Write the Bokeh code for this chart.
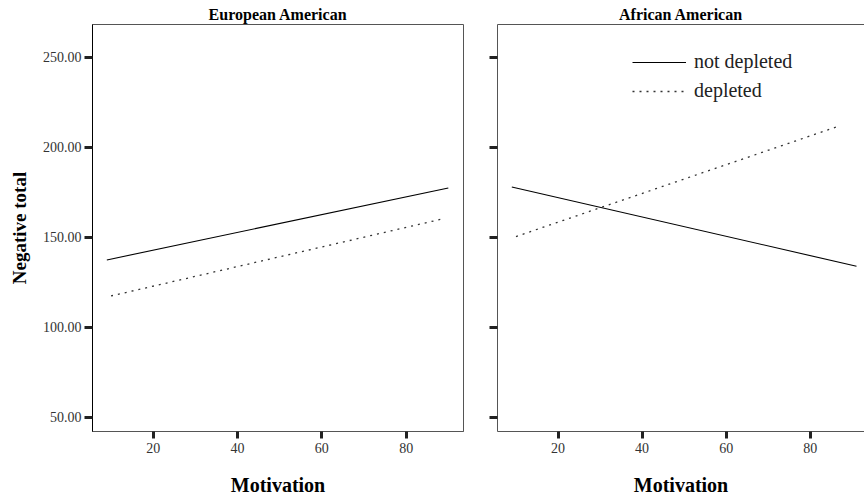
from bokeh.plotting import figure
from bokeh.layouts import row
from bokeh.models import (Range1d, FixedTicker, NumeralTickFormatter, CustomJSTickFormatter,
                          LinearAxis, Legend, LegendItem)
from bokeh.embed import file_html
from bokeh.resources import INLINE

# ---- data ----
panel_titles = ["European American", "African American"]
y_ticks = [50, 100, 150, 200, 250]
x_ticks = [20, 40, 60, 80]
series_labels = ["not depleted", "depleted"]

ea_not_depleted_x = [9, 90]
ea_not_depleted_y = [137.5, 177.5]
ea_depleted_x = [10, 89]
ea_depleted_y = [117.5, 160.5]

aa_not_depleted_x = [9, 91]
aa_not_depleted_y = [178.0, 134.0]
aa_depleted_x = [10, 87]
aa_depleted_y = [150.5, 212.0]

FONT = "Liberation Serif"
H = 499
Y_RANGE = (42.2, 268.3)
AXIS_GRAY = "#555555"


def make_panel(title, width, x_range, border_left, border_right, first):
    p = figure(width=width, height=H,
               x_range=Range1d(*x_range), y_range=Range1d(*Y_RANGE),
               output_backend="svg", toolbar_location=None,
               min_border_left=border_left, min_border_right=border_right,
               min_border_top=24, min_border_bottom=68)
    p.title.text = title
    p.title.align = "center"
    p.title.text_font = FONT
    p.title.text_font_style = "bold"
    p.title.text_font_size = "16px"
    p.title.text_color = "black"
    p.title.standoff = 4
    p.xgrid.visible = False
    p.ygrid.visible = False
    p.background_fill_color = "white"
    p.border_fill_color = "white"

    # x axis
    xa = p.xaxis[0]
    xa.ticker = FixedTicker(ticks=x_ticks)
    xa.axis_label = "Motivation"
    xa.axis_label_text_font = FONT
    xa.axis_label_text_font_style = "bold"
    xa.axis_label_text_font_size = "20px"
    xa.axis_label_text_color = "black"
    xa.axis_label_standoff = 18
    xa.major_label_text_font = FONT
    xa.major_label_text_font_size = "14px"
    xa.major_label_text_color = "#333333"
    xa.major_label_standoff = 4
    xa.major_tick_in = 0
    xa.major_tick_out = 7
    xa.major_tick_line_width = 3
    xa.major_tick_line_color = "#222222"
    xa.minor_tick_line_color = None
    xa.axis_line_color = AXIS_GRAY

    # y axis
    ya = p.yaxis[0]
    ya.ticker = FixedTicker(ticks=y_ticks)
    ya.major_tick_in = 0
    ya.major_tick_out = 8
    ya.major_tick_line_width = 3
    ya.major_tick_line_color = "#222222"
    ya.minor_tick_line_color = None
    if first:
        ya.formatter = NumeralTickFormatter(format="0.00")
        ya.axis_label = "Negative total"
        ya.axis_label_text_font = FONT
        ya.axis_label_text_font_style = "bold"
        ya.axis_label_text_font_size = "19px"
        ya.axis_label_text_color = "black"
        ya.axis_label_standoff = 10
        ya.major_label_text_font = FONT
        ya.major_label_text_font_size = "14px"
        ya.major_label_text_color = "#333333"
        ya.major_label_standoff = 3
        ya.axis_line_color = "black"
        p.outline_line_color = AXIS_GRAY
    else:
        ya.formatter = CustomJSTickFormatter(code="return ''")
        ya.major_label_standoff = 0
        ya.axis_line_color = AXIS_GRAY
        p.outline_line_color = None
        top = LinearAxis(ticker=FixedTicker(ticks=[]), axis_line_color=AXIS_GRAY,
                         major_label_standoff=0, major_tick_out=0, major_tick_in=0,
                         minor_tick_out=0, minor_tick_in=0)
        p.add_layout(top, "above")
    return p


p1 = make_panel(panel_titles[0], 473, (5.6, 93.6), 92, 10, True)
p2 = make_panel(panel_titles[1], 391, (5.6, 92.9), 24, 0, False)

p1.line(ea_not_depleted_x, ea_not_depleted_y, line_color="black", line_width=1.1)
p1.line(ea_depleted_x, ea_depleted_y, line_color="#333333", line_width=1.3, line_dash="2 5")

r_nd = p2.line(aa_not_depleted_x, aa_not_depleted_y, line_color="black", line_width=1.1)
r_d = p2.line(aa_depleted_x, aa_depleted_y, line_color="#333333", line_width=1.3, line_dash="2 5")

legend = Legend(items=[LegendItem(label=series_labels[0], renderers=[r_nd]),
                       LegendItem(label=series_labels[1], renderers=[r_d])],
                location=(135, 329))
legend.label_text_font = FONT
legend.label_text_font_size = "20px"
legend.label_text_color = "#222222"
legend.glyph_width = 54
legend.glyph_height = 22
legend.label_height = 22
legend.label_standoff = 8
legend.spacing = 6
legend.padding = 0
legend.margin = 0
legend.border_line_color = None
legend.background_fill_alpha = 0
p2.add_layout(legend, "center")

layout = row(p1, p2)
open("out.html", "w").write(file_html(layout, INLINE))
